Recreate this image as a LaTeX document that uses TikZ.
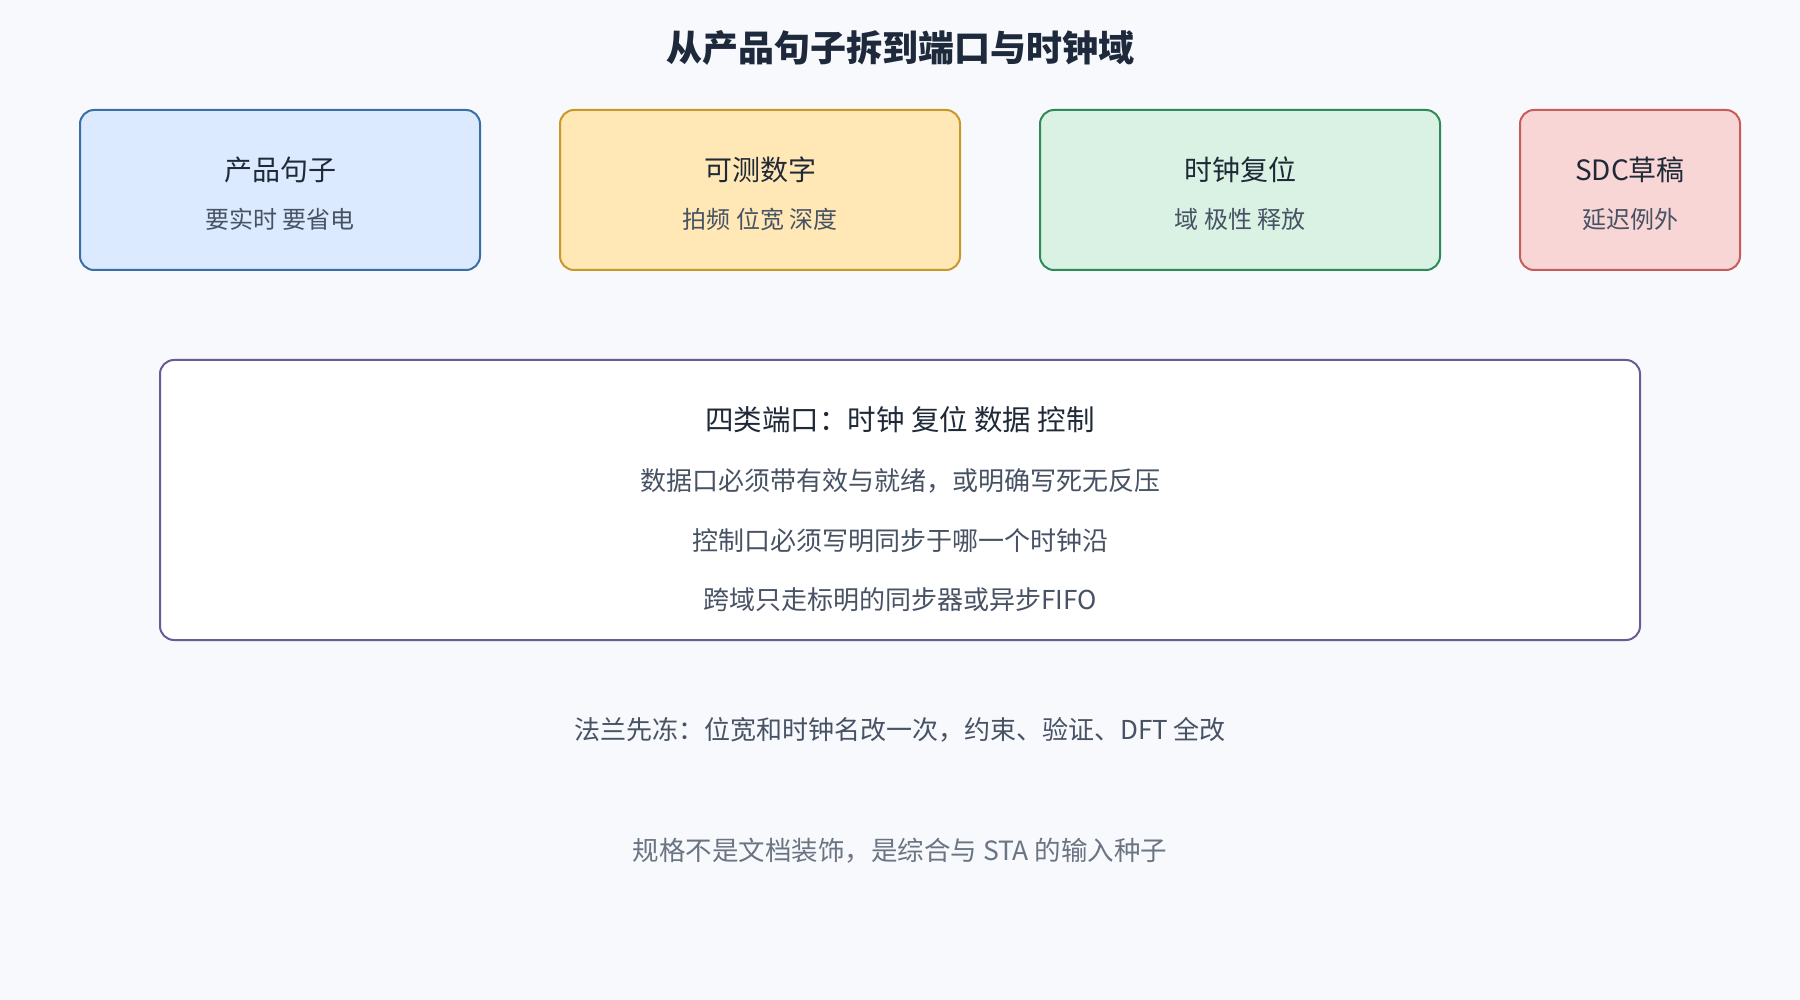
\documentclass[tikz,border=0pt]{standalone}
\usepackage{fontspec}
\setmainfont{Noto Sans CJK SC}
\usetikzlibrary{positioning}
\definecolor{bgcol}{HTML}{F7F9FC}
\definecolor{headcol}{HTML}{1E2A3B}
\definecolor{darktext}{HTML}{1F2937}
\definecolor{midtext}{HTML}{475264}
\definecolor{greytext}{HTML}{6B7483}
\definecolor{bluefill}{HTML}{DBEAFE}
\definecolor{bluedraw}{HTML}{3A6EA5}
\definecolor{yellowfill}{HTML}{FFE8B5}
\definecolor{yellowdraw}{HTML}{C9982B}
\definecolor{greenfill}{HTML}{D9F2E3}
\definecolor{greendraw}{HTML}{2E8B57}
\definecolor{redfill}{HTML}{F8D6D6}
\definecolor{reddraw}{HTML}{C85C5C}
\definecolor{portdraw}{HTML}{6B5B95}
\tikzstyle{stage} = [rectangle, rounded corners=14pt, minimum width=400pt, minimum height=160pt, line width=2pt]
\tikzstyle{stagetitle} = [text=darktext, font=\fontsize{28}{34}\selectfont]
\tikzstyle{stagesub} = [text=midtext, font=\fontsize{24}{28}\selectfont]
\tikzstyle{portbox} = [rectangle, rounded corners=14pt, minimum width=1480pt, minimum height=280pt, line width=2pt, draw=portdraw, fill=white]
\tikzstyle{portline} = [text=midtext, font=\fontsize{26}{30}\selectfont]

\begin{document}
\begin{tikzpicture}[x=1pt, y=-1pt, node distance=480pt]
\fill[bgcol] (0,0) rectangle (1800,1000);
\node (title) at (900,48) [text=headcol, font=\bfseries\fontsize{36}{42}\selectfont] {从产品句子拆到端口与时钟域};

\node (s1) at (280,190) [stage, draw=bluedraw, fill=bluefill] {};
\node (s2) [stage, right of=s1, draw=yellowdraw, fill=yellowfill] {};
\node (s3) [stage, right of=s2, draw=greendraw, fill=greenfill] {};
\node (s4) [stage, right of=s3, xshift=-90pt, minimum width=220pt, draw=reddraw, fill=redfill] {};
\node (s1t) at ([yshift=20pt]s1.center) [stagetitle] {产品句子};
\node (s1s) at ([yshift=-29pt]s1.center) [stagesub] {要实时 要省电};
\node (s2t) at ([yshift=20pt]s2.center) [stagetitle] {可测数字};
\node (s2s) at ([yshift=-29pt]s2.center) [stagesub] {拍频 位宽 深度};
\node (s3t) at ([yshift=20pt]s3.center) [stagetitle] {时钟复位};
\node (s3s) at ([yshift=-29pt]s3.center) [stagesub] {域 极性 释放};
\node (s4t) at ([yshift=20pt]s4.center) [stagetitle] {SDC草稿};
\node (s4s) at ([yshift=-29pt]s4.center) [stagesub] {延迟例外};

\node (ports) at (900,500) [portbox] {};
\node (p0) at ([yshift=80pt]ports.center) [text=darktext, font=\fontsize{28.5}{33}\selectfont] {四类端口：时钟 复位 数据 控制};
\node (p1) at ([yshift=19pt]ports.center) [portline] {数据口必须带有效与就绪，或明确写死无反压};
\node (p2) at ([yshift=-41pt]ports.center) [portline] {控制口必须写明同步于哪一个时钟沿};
\node (p3) at ([yshift=-100pt]ports.center) [portline] {跨域只走标明的同步器或异步FIFO};

\node (freeze) at (900,730) [portline] {法兰先冻：位宽和时钟名改一次，约束、验证、DFT 全改};
\node (seed) at (900,851) [text=greytext, font=\fontsize{26.5}{31}\selectfont] {规格不是文档装饰，是综合与 STA 的输入种子};
\end{tikzpicture}
\end{document}
